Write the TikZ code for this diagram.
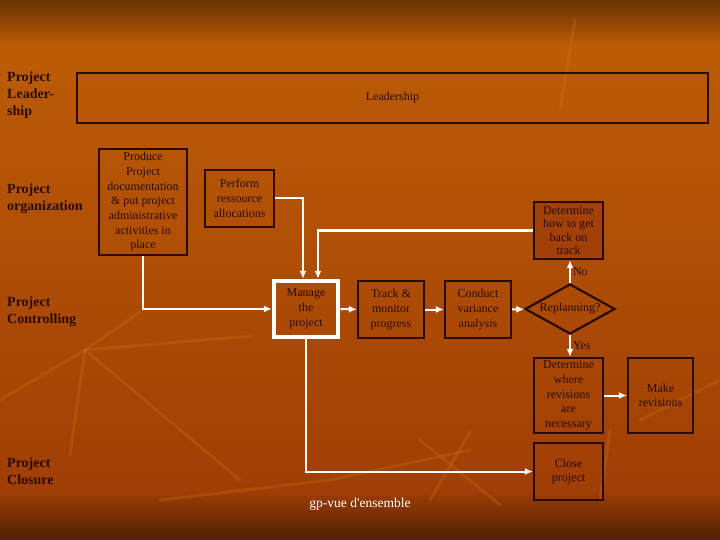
\documentclass[tikz,border=0pt]{standalone}
\usepackage{fontspec}
\setmainfont{Liberation Serif}
\usetikzlibrary{arrows.meta,shapes.geometric}

\definecolor{bgtop}{RGB}{105,52,2}
\definecolor{bgmid}{RGB}{188,92,6}
\definecolor{bglow}{RGB}{160,62,5}
\definecolor{bgbot}{RGB}{80,32,2}
\definecolor{leaf}{RGB}{206,122,24}
\definecolor{ink}{RGB}{42,12,4}
\definecolor{boxfill}{RGB}{162,64,8}

\tikzset{
  task/.style={draw=ink, line width=2.2pt, text=ink, align=center, inner sep=1pt,
    font=\fontsize{12}{14.7}\selectfont},
  phase/.style={anchor=west, align=left, inner sep=0pt, text=ink,
    font=\fontsize{14}{17}\selectfont\bfseries},
  conn/.style={draw=white, line width=2pt, -{Latex[length=8pt,width=7pt]}},
  tag/.style={text=ink, inner sep=2pt, font=\fontsize{12}{14}\selectfont}
}

\begin{document}
\begin{tikzpicture}[x=1pt, y=-1pt]
% Background
\useasboundingbox (0,0) rectangle (720,540);
\shade[top color=bgtop, bottom color=bgmid] (0,0) rectangle (720,46);
\shade[top color=bgmid, bottom color=bglow] (0,46) rectangle (720,490);
\shade[top color=bglow, bottom color=bgbot] (0,490) rectangle (720,540);

% Leaves
\begin{scope}[draw=leaf, opacity=0.25, line width=3pt, line cap=round]
\draw (0,400) -- (85,350) -- (140,312);
\draw (85,350) -- (250,336);
\draw (85,350) -- (70,455);
\draw (85,350) -- (240,480);
\draw (160,500) -- (330,480) -- (470,450);
\draw (420,440) -- (500,505);
\draw (470,432) -- (430,500);
\draw (575,20) -- (560,110);
\draw (640,420) -- (720,380);
\draw (610,430) -- (600,500);
\end{scope}

% Phases
\node[phase] (plead) at (7,95) {Project\\Leader-\\ship};
\node[phase] (porg) at (7,198.5) {Project\\organization};
\node[phase] (pctrl) at (7,311.5) {Project\\Controlling};
\node[phase] (pclose) at (7,471.5) {Project\\Closure};

% Boxes
\node[task, minimum width=631pt, minimum height=50pt] (lead) at (392.5,98) {Leadership};
\node[task, minimum width=88pt, minimum height=106pt] (produce) at (143,202)
  {Produce\\Project\\documentation\\\& put project\\administrative\\activities in\\place};
\node[task, minimum width=69pt, minimum height=57pt] (perform) at (239.5,198.5)
  {Perform\\ressource\\allocations};
\node[task, fill=boxfill, minimum width=69pt, minimum height=57pt, inner sep=0pt,
  font=\fontsize{12}{13.6}\selectfont] (gettrack) at (568.5,230.5)
  {Determine\\how to get\\back on\\track};
\node[task, draw=white, line width=4.5pt, minimum width=64pt, minimum height=56pt] (manage) at (306,309)
  {Manage\\the\\project};
\node[task, minimum width=66pt, minimum height=57pt] (track) at (391,309.5)
  {Track \&\\monitor\\progress};
\node[task, minimum width=66pt, minimum height=57pt] (conduct) at (478,309.5)
  {Conduct\\variance\\analysis};
\node[task, shape=diamond, shape aspect=1.8, inner sep=0pt, minimum width=90pt, minimum height=50pt]
  (replan) at (570,309) {Replanning?};
\node[task, minimum width=69pt, minimum height=75pt, inner sep=0pt] (where) at (568.5,395.5)
  {Determine\\where\\revisions\\are\\necessary};
\node[task, minimum width=65pt, minimum height=75pt] (make) at (660.5,395.5)
  {Make\\revisions};
\node[task, minimum width=69pt, minimum height=57pt] (close) at (568.5,471.5)
  {Close\\project};

% Connectors
\draw[conn] (produce.south) |- (manage.west);
\draw[conn] (perform.east) -| ([xshift=-3pt]manage.north);
\draw[conn] (gettrack.west) -| ([xshift=12pt]manage.north);
\draw[conn] (manage) -- (track);
\draw[conn] (track) -- (conduct);
\draw[conn] (conduct) -- (replan);
\draw[conn] (replan.north) -- node[tag, right] {No} (replan.north |- gettrack.south);
\draw[conn] (replan.south) -- node[tag, right] {Yes} (replan.south |- where.north);
\draw[conn] (where) -- (make);
\draw[conn] (manage.south) |- (close.west);

% Footer
\node[text=white, font=\fontsize{13.5}{16}\selectfont] (foot) at (360,504) {gp-vue d\textquotesingle ensemble};
\end{tikzpicture}
\end{document}
